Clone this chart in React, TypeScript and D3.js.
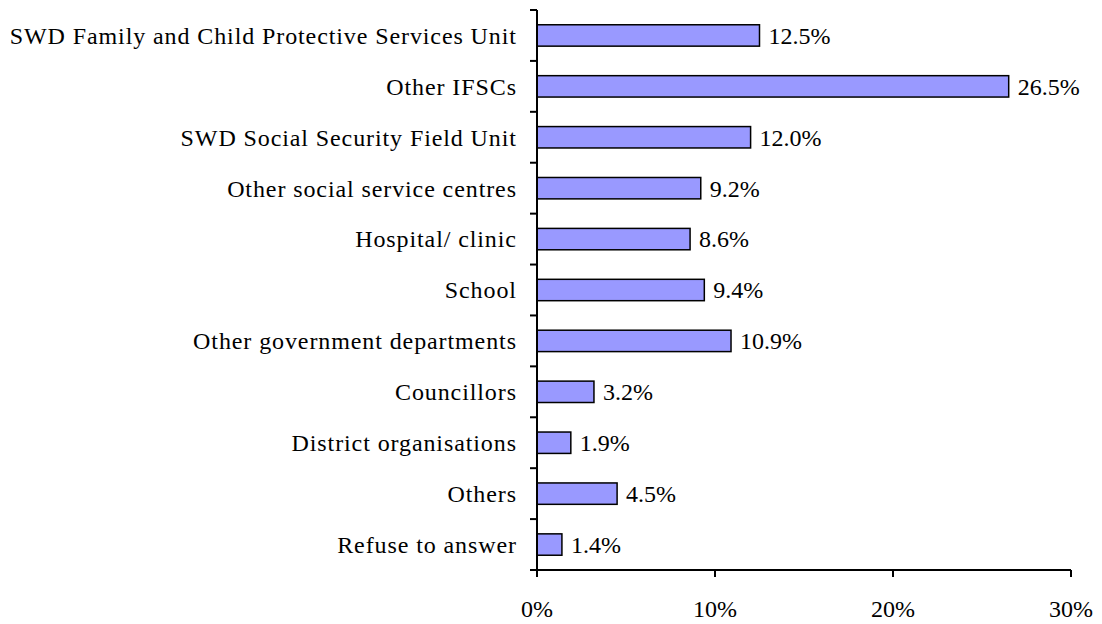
import React from "react";
import * as d3 from "d3";

const categories = [
  "SWD Family and Child Protective Services Unit",
  "Other IFSCs",
  "SWD Social Security Field Unit",
  "Other social service centres",
  "Hospital/ clinic",
  "School",
  "Other government departments",
  "Councillors",
  "District organisations",
  "Others",
  "Refuse to answer",
];
const values = [0.125, 0.265, 0.12, 0.092, 0.086, 0.094, 0.109, 0.032, 0.019, 0.045, 0.014];
const valueLabels = ["12.5%", "26.5%", "12.0%", "9.2%", "8.6%", "9.4%", "10.9%", "3.2%", "1.9%", "4.5%", "1.4%"];
const xTicks = [0, 0.1, 0.2, 0.3];
const xTickLabels = ["0%", "10%", "20%", "30%"];

const W = 1102;
const H = 624;
const FONT = "'Liberation Serif', 'Times New Roman', serif";
const FS = 24;
const LS = 0.9;

export default function App() {
  const x = d3.scaleLinear().domain([0, 0.3]).range([537, 1071]);
  const y = d3.scaleBand<string>().domain(categories).range([10, 570]).paddingInner(0.58).paddingOuter(0.29);
  const step = y.step();
  const yTickPos = d3.range(categories.length + 1).map((i) => 10 + i * step);

  return (
    <svg
      width={W}
      height={H}
      style={{ position: "absolute", left: 0, top: 0, background: "#fff" }}
      fontFamily={FONT}
    >
      <rect x={0} y={0} width={W} height={H} fill="#fff" />
      {categories.map((c, i) => {
        const by = y(c)!;
        const bh = y.bandwidth();
        return (
          <g key={c}>
            <rect
              x={x(0)}
              y={by}
              width={x(values[i]) - x(0)}
              height={bh}
              fill="#9999FF"
              stroke="#000"
              strokeWidth={1.5}
            />
            <text x={x(values[i]) + 9} y={by + bh / 2} dy="0.35em" fontSize={FS} fill="#000">
              {valueLabels[i]}
            </text>
            <text
              x={516 + LS}
              y={by + bh / 2}
              dy="0.35em"
              fontSize={FS}
              letterSpacing={LS}
              textAnchor="end"
              fill="#000"
            >
              {c}
            </text>
          </g>
        );
      })}
      {/* y axis */}
      <line x1={x(0)} x2={x(0)} y1={10} y2={570} stroke="#000" strokeWidth={2} />
      {yTickPos.map((p, i) => (
        <line key={i} x1={x(0) - 7} x2={x(0)} y1={p} y2={p} stroke="#000" strokeWidth={2} />
      ))}
      {/* x axis */}
      <line x1={x(0)} x2={x(0.3)} y1={570} y2={570} stroke="#000" strokeWidth={2} />
      {xTicks.map((t, i) => (
        <g key={t}>
          <line x1={x(t)} x2={x(t)} y1={570} y2={577} stroke="#000" strokeWidth={2} />
          <text x={x(t)} y={617} fontSize={FS} textAnchor="middle" fill="#000">
            {xTickLabels[i]}
          </text>
        </g>
      ))}
    </svg>
  );
}
